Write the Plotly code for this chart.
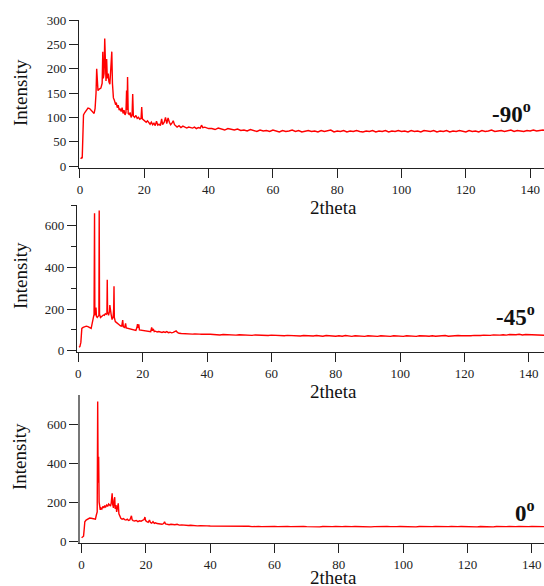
import plotly.graph_objects as go

# ---------------- data ----------------
labels = ["-90", "-45", "0"]
x_ticks = [0, 20, 40, 60, 80, 100, 120, 140]

# panel -90 : 0..40
p90_x = [0.2, 0.5, 0.7, 0.9, 1.1, 1.5, 2.0, 2.5, 3.0, 3.5, 4.0, 4.4, 4.7, 5.0, 5.2, 5.35, 5.6, 6.0, 6.5, 6.9,
         7.1, 7.25, 7.5, 7.7, 7.85, 8.1, 8.3, 8.5, 8.8, 9.0, 9.3, 9.6, 9.9, 10.1, 10.4, 10.7, 11.0, 11.3, 11.6, 11.9,
         12.2, 12.5, 12.8, 13.1, 13.4, 13.7, 14.0, 14.3, 14.5, 14.65, 14.8, 15.0, 15.3, 15.6, 15.9, 16.2, 16.4, 16.6,
         17.0, 17.4, 17.8, 18.2, 18.6, 19.0, 19.2, 19.4, 19.8, 20.2, 20.6, 21.0, 21.4, 21.8, 22.2, 22.6, 23.0, 23.4,
         23.8, 24.2, 24.6, 25.0, 25.4, 25.7, 26.2, 26.6, 27.0, 27.4, 27.8, 28.2, 28.6, 29.0, 29.4, 29.8, 30.2, 30.8,
         31.4, 32.0, 32.6, 33.2, 33.8, 34.4, 35.0, 35.6, 36.2, 36.8, 37.4, 37.8, 38.2, 38.8, 39.4, 40.0]
p90_y = [15, 17, 16, 60, 105, 110, 115, 119, 118, 115, 110, 108, 118, 150, 200, 165, 155, 158, 160, 170,
         235, 180, 190, 262, 190, 175, 220, 180, 190, 173, 168, 200, 235, 170, 140, 135, 128, 130, 120, 125,
         115, 118, 112, 120, 108, 115, 105, 110, 155, 115, 183, 108, 106, 110, 100, 105, 148, 103,
         100, 104, 98, 100, 96, 98, 121, 97, 95, 92, 90, 93, 88, 86, 90, 85, 88, 83,
         92, 84, 86, 83, 97, 85, 90, 100, 87, 99, 90, 85, 88, 93, 85, 82, 80, 83,
         79, 82, 80, 78, 80, 79, 78, 80, 77, 79, 78, 84, 79, 80, 78, 77]

# panel -45 : 0..40
p45_x = [0.2, 0.5, 0.8, 1.1, 1.5, 2.0, 2.5, 3.0, 3.5, 4.0, 4.3, 4.5, 4.7, 4.9, 5.05, 5.15, 5.4, 5.5, 5.65, 5.9,
         6.2, 6.4, 6.5, 6.6, 6.9, 7.2, 7.5, 7.8, 8.1, 8.4, 8.7, 8.9, 9.0, 9.1, 9.4, 9.7, 9.8, 9.95, 10.2, 10.5,
         10.8, 11.0, 11.1, 11.2, 11.5, 11.9, 12.3, 12.7, 13.1, 13.5, 13.8, 14.0, 14.4, 14.7, 14.9, 15.3, 15.7, 16.1,
         16.5, 17.0, 17.5, 17.9, 18.2, 18.4, 18.6, 18.8, 19.0, 19.5, 20.0, 20.5, 21.0, 21.5, 22.0, 22.5, 22.8, 23.0,
         23.3, 23.6, 24.0, 24.5, 25.0, 25.5, 26.0, 26.5, 27.0, 27.5, 28.0, 28.5, 29.0, 29.5, 30.0, 30.4, 30.8, 31.3,
         32.0, 32.7, 33.4, 34.1, 34.8, 35.5, 36.2, 36.9, 37.6, 38.3, 39.0, 39.7, 40.0]
p45_y = [18, 20, 40, 107, 112, 117, 118, 116, 113, 107, 130, 155, 160, 175, 660, 170, 180, 207, 165, 160,
         165, 170, 673, 175, 160, 165, 168, 172, 170, 178, 175, 180, 341, 185, 170, 190, 219, 180, 175, 150,
         160, 200, 310, 160, 140, 135, 128, 125, 120, 118, 147, 115, 112, 131, 110, 108, 106, 104,
         103, 101, 100, 98, 110, 128, 110, 127, 100, 99, 97, 95, 96, 93, 95, 92, 112, 96,
         105, 92, 94, 90, 92, 89, 88, 91, 88, 92, 87, 89, 86, 88, 90, 95, 88, 84,
         83, 82, 83, 81, 82, 80, 81, 79, 80, 79, 80, 78, 79]

# panel 0 : 0..40
p0_x = [0.0, 0.3, 0.6, 0.8, 1.0, 1.4, 2.0, 2.5, 3.0, 3.5, 4.0, 4.3, 4.6, 4.85, 5.0, 5.15, 5.3, 5.45, 5.6, 5.8,
        6.0, 6.3, 6.6, 6.9, 7.2, 7.5, 7.8, 8.1, 8.4, 8.7, 9.0, 9.2, 9.5, 9.65, 9.9, 10.1, 10.3, 10.45, 10.7, 10.9,
        11.1, 11.4, 11.6, 11.9, 12.2, 12.6, 13.0, 13.4, 13.8, 14.2, 14.6, 15.0, 15.3, 15.5, 15.7, 16.0, 16.5, 17.0,
        17.5, 18.0, 18.5, 19.0, 19.4, 19.7, 19.9, 20.3, 20.7, 21.1, 21.4, 21.8, 22.2, 22.6, 23.0, 23.5, 24.0, 24.5,
        25.0, 25.5, 25.8, 26.1, 26.6, 27.2, 27.8, 28.4, 29.0, 29.7, 30.4, 31.1, 31.8, 32.5, 33.2, 33.9, 34.6, 35.3,
        36.0, 37.0, 38.0, 39.0, 40.0]
p0_y = [17, 20, 25, 60, 99, 108, 115, 118, 117, 115, 110, 112, 135, 150, 716, 300, 433, 200, 176, 160,
        170, 165, 178, 170, 182, 175, 185, 178, 190, 183, 180, 195, 245, 190, 170, 210, 225, 165, 185, 150,
        175, 194, 140, 125, 117, 112, 115, 110, 108, 112, 106, 108, 118, 130, 110, 105, 103, 106,
        100, 104, 102, 106, 110, 123, 105, 100, 96, 108, 95, 92, 100, 91, 94, 90, 88, 87,
        86, 90, 99, 88, 85, 84, 86, 83, 84, 86, 82, 83, 81, 82, 80, 81, 79, 80,
        78, 79, 77, 78, 77]

# flat tails, 41..145
tail_x = list(range(41, 146))
p90_tail = [77, 75, 78, 76, 74, 77, 75, 74, 76, 73,
            74, 72, 75, 73, 71, 74, 72, 73, 71, 74,
            72, 70, 73, 71, 72, 74, 71, 73, 70, 72,
            73, 71, 72, 70, 73, 71, 72, 74, 70, 72,
            71, 73, 70, 72, 71, 73, 71, 70, 72, 71,
            73, 70, 72, 71, 73, 70, 72, 71, 73, 71,
            72, 70, 73, 71, 72, 70, 73, 72, 71, 73,
            70, 72, 71, 73, 70, 72, 71, 73, 72, 70,
            73, 71, 72, 70, 73, 71, 72, 74, 71, 72,
            73, 71, 72, 74, 71, 73, 72, 71, 73, 72,
            74, 72, 73, 74, 73]
p45_tail = [79, 77, 78, 76, 78, 77, 76, 78, 75, 77,
            76, 75, 77, 74, 76, 75, 74, 76, 73, 75,
            74, 73, 75, 72, 74, 73, 72, 74, 71, 73,
            72, 74, 71, 73, 72, 70, 73, 71, 72, 70,
            72, 70, 73, 71, 69, 72, 70, 71, 69, 72,
            70, 71, 69, 72, 70, 71, 69, 72, 70, 71,
            69, 72, 70, 71, 69, 72, 70, 71, 70, 72,
            70, 72, 71, 73, 70, 72, 71, 73, 72, 71,
            73, 72, 74, 72, 73, 75, 73, 74, 76, 74,
            75, 77, 75, 78, 76, 77, 79, 76, 78, 77,
            76, 75, 74, 75, 74]
p0_tail = [77, 76, 78, 76, 77, 75, 77, 76, 75, 76,
           75, 76, 74, 76, 75, 74, 75, 76, 74, 75,
           74, 75, 73, 75, 74, 75, 73, 74, 75, 74,
           73, 75, 74, 73, 75, 74, 73, 74, 75, 73,
           74, 75, 73, 74, 75, 74, 73, 75, 74, 73,
           74, 75, 73, 74, 75, 74, 73, 74, 75, 74,
           73, 75, 74, 73, 75, 74, 75, 73, 74, 75,
           74, 73, 75, 74, 75, 73, 74, 75, 74, 73,
           75, 74, 73, 75, 74, 75, 74, 73, 75, 74,
           75, 74, 75, 73, 74, 75, 74, 75, 74, 75,
           74, 75, 74, 75, 74]

# ---------------- figure ----------------
W, H = 544, 586
def px_x(p): return p / W
def px_y(p): return 1 - p / H

FONT = "Liberation Serif, Times New Roman, serif"
RED = "#ff0000"
AX = "#222222"

fig = go.Figure()
series = [(p90_x + tail_x, p90_y + p90_tail, "x", "y"),
          (p45_x + tail_x, p45_y + p45_tail, "x2", "y2"),
          (p0_x + tail_x, p0_y + p0_tail, "x3", "y3")]
for xs, ys, xa, ya in series:
    fig.add_trace(go.Scatter(x=xs, y=ys, mode="lines", xaxis=xa, yaxis=ya,
                             line=dict(color=RED, width=1.4), showlegend=False,
                             hoverinfo="skip"))

common_x = dict(showline=True, linecolor=AX, linewidth=1.3, ticks="outside", ticklen=9,
                tickcolor=AX, tickwidth=1.3, showgrid=False, zeroline=False, automargin=False,
                tickvals=x_ticks, tickfont=dict(family=FONT, size=13, color=AX))
common_y = dict(showline=True, linecolor=AX, linewidth=1.3, ticks="outside", ticklen=9,
                tickcolor=AX, tickwidth=1.3, showgrid=False, zeroline=False, automargin=False,
                tickfont=dict(family=FONT, size=13, color=AX))

fig.update_layout(
    template="none",
    xaxis=dict(common_x, domain=[px_x(79), 1], range=[-0.3, 144.3], anchor="y"),
    yaxis=dict(common_y, domain=[px_y(168), px_y(20)], range=[-4, 300], dtick=50, anchor="x"),
    xaxis2=dict(common_x, domain=[px_x(77), 1], range=[-0.4, 144.7], anchor="y2"),
    yaxis2=dict(common_y, domain=[px_y(352), px_y(205)], range=[-6, 700],
                tickvals=[0, 200, 400, 600],
                minor=dict(dtick=100, ticklen=5, ticks="outside", tickcolor=AX, tickwidth=1.3),
                anchor="x2"),
    xaxis3=dict(common_x, domain=[px_x(80), 1], range=[-0.5, 143.8], anchor="y3"),
    yaxis3=dict(common_y, domain=[px_y(543), px_y(395)], range=[-10, 750],
                tickvals=[0, 200, 400, 600], linecolor="#777777", linewidth=2, anchor="x3"),
    width=W, height=H,
    margin=dict(l=0, r=0, t=0, b=0, pad=0, autoexpand=False),
    plot_bgcolor="white", paper_bgcolor="white",
)

annots = []
# y titles
for yc in (93, 276, 457):
    annots.append(dict(text="Intensity", x=px_x(20), y=px_y(yc), xref="paper", yref="paper",
                       textangle=-90, showarrow=False, font=dict(family=FONT, size=19, color="#111"),
                       xanchor="center", yanchor="middle"))
# x titles
for yc in (208, 391, 577):
    annots.append(dict(text="2theta", x=px_x(333), y=px_y(yc), xref="paper", yref="paper",
                       showarrow=False, font=dict(family=FONT, size=19, color="#111"),
                       xanchor="center", yanchor="middle"))
# angle labels
for lab, xr, yc in zip(labels, (533, 537, 537), (113, 315, 511)):
    annots.append(dict(text="<b>" + lab + "<sup>o</sup></b>", x=px_x(xr), y=px_y(yc),
                       xref="paper", yref="paper", showarrow=False,
                       font=dict(family=FONT, size=23, color="#111"),
                       xanchor="right", yanchor="middle"))
fig.update_layout(annotations=annots)

fig.write_html("out.html", config={"displayModeBar": False},
               post_script="document.body.style.margin='0';document.body.style.overflow='hidden';")
